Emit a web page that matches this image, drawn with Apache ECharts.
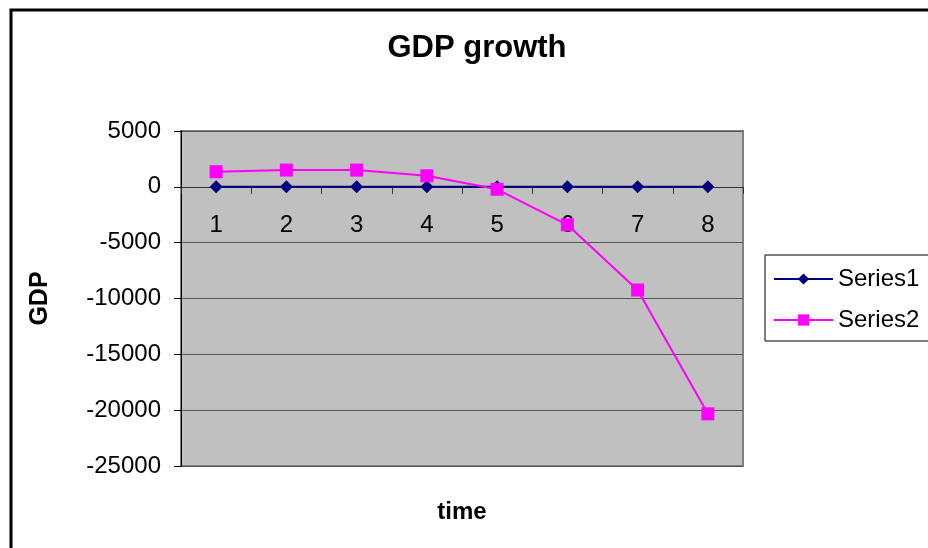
<!DOCTYPE html>
<html>
<head>
<meta charset="utf-8">
<script src="https://cdn.jsdelivr.net/npm/echarts@6/dist/echarts.min.js"></script>
<style>
    html, body { margin: 0; padding: 0; background: #fff; }
    #chart { width: 928px; height: 548px; }
</style>
</head>
<body>
<div id="chart"></div>
<script>
const categories = ['1', '2', '3', '4', '5', '6', '7', '8'];
const series1 = [0, 0, 0, 0, 0, 0, 0, 0];
const series2 = [1350, 1500, 1500, 990, -220, -3400, -9240, -20330];
const yMin = -25000;
const yMax = 5000;
const yStep = 5000;

const font = 'Liberation Sans, Arial, sans-serif';

let chart = echarts.init(document.getElementById('chart'));

let option = {
    animation: false,
    title: {
        text: 'GDP growth',
        left: 477,
        top: 33,
        textAlign: 'center',
        padding: 0,
        textStyle: {
            fontFamily: font,
            fontSize: 31,
            fontWeight: 'bold',
            color: '#000'
        }
    },
    graphic: [
        {
            type: 'rect',
            shape: { x: 11, y: 10, width: 1000, height: 1000 },
            style: { fill: null, stroke: '#000', lineWidth: 3 },
            silent: true
        }
    ],
    legend: {
        orient: 'vertical',
        left: 765,
        top: 255,
        padding: [12, 30, 9, 8],
        itemGap: 17,
        itemWidth: 59,
        itemHeight: 14,
        borderColor: '#000',
        borderWidth: 1,
        textStyle: {
            fontFamily: font,
            fontSize: 24,
            color: '#000'
        },
        data: ['Series1', 'Series2']
    },
    grid: {
        left: 181,
        top: 131,
        right: 185,
        bottom: 82,
        containLabel: false,
        outerBoundsMode: 'none',
        show: true,
        backgroundColor: '#C0C0C0',
        borderColor: '#808080',
        borderWidth: 2
    },
    xAxis: {
        type: 'category',
        data: categories,
        boundaryGap: true,
        name: 'time',
        nameLocation: 'middle',
        nameGap: 34,
        nameTextStyle: {
            fontFamily: font,
            fontSize: 24,
            fontWeight: 'bold',
            color: '#000'
        },
        axisLine: { onZero: true, lineStyle: { color: '#333', width: 1 } },
        axisTick: { show: true, length: 7, lineStyle: { color: '#333' } },
        axisLabel: {
            fontFamily: font,
            fontSize: 24,
            color: '#000',
            // labels sit just under the zero line, as in the original
            margin: -253
        }
    },
    yAxis: {
        type: 'value',
        min: yMin,
        max: yMax,
        interval: yStep,
        name: 'GDP',
        nameLocation: 'middle',
        nameRotate: 90,
        nameGap: 128,
        nameTextStyle: {
            fontFamily: font,
            fontSize: 25,
            fontWeight: 'bold',
            color: '#000'
        },
        axisLine: { show: true, lineStyle: { color: '#000', width: 1 } },
        axisTick: { show: true, length: 7, lineStyle: { color: '#000' } },
        axisLabel: {
            fontFamily: font,
            fontSize: 24,
            color: '#000',
            margin: 20,
            formatter: v => String(v)
        },
        splitLine: { show: true, lineStyle: { color: '#555', width: 1 } }
    },
    series: [
        {
            name: 'Series1',
            type: 'line',
            data: series1,
            symbol: 'diamond',
            symbolSize: 13,
            lineStyle: { color: '#000080', width: 2 },
            itemStyle: { color: '#000080' }
        },
        {
            name: 'Series2',
            type: 'line',
            data: series2,
            symbol: 'rect',
            symbolSize: 13,
            lineStyle: { color: '#FF00FF', width: 2 },
            itemStyle: { color: '#FF00FF' }
        }
    ]
};

chart.setOption(option);
</script>
</body>
</html>
